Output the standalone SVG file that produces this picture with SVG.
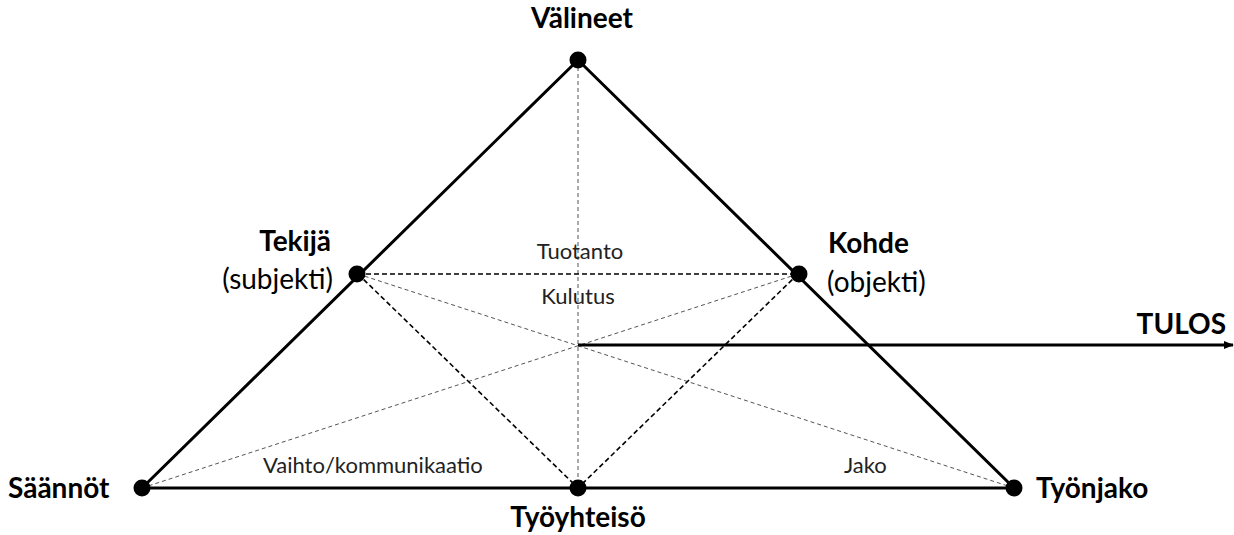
<svg xmlns="http://www.w3.org/2000/svg" width="1234" height="535" viewBox="0 0 1234 535">
  <style>
    text { font-family: Lato, "Open Sans", "Liberation Sans", sans-serif; fill: #000; }
    .big { font-size: 28px; font-weight: bold; }
    .sub { font-size: 28px; }
    .small { font-size: 22px; fill: #222; }
    .edge { stroke: #000; stroke-width: 3; fill: none; stroke-linecap: round; }
    .dash { stroke: #000; stroke-width: 1.6; stroke-dasharray: 5 3; fill: none; }
    .thin { stroke: #555; stroke-width: 1; stroke-dasharray: 4 3; fill: none; }
    .dot { fill: #000; }
  </style>
  <defs>
    <marker id="arrow" markerWidth="10" markerHeight="10" refX="9" refY="5" orient="auto" markerUnits="userSpaceOnUse">
      <path d="M0,1 L10,5 L0,9 Z" fill="#000"/>
    </marker>
  </defs>

  <g id="connectors">
    <!-- light guide lines through the centre -->
    <line class="thin" x1="578" y1="60" x2="578" y2="488"/>
    <line class="thin" x1="142" y1="488" x2="798" y2="274"/>
    <line class="thin" x1="358" y1="274" x2="1014" y2="488"/>
    <!-- inner dashed triangle -->
    <line class="dash" x1="358" y1="274" x2="798" y2="274"/>
    <line class="dash" x1="358" y1="274" x2="578" y2="488"/>
    <line class="dash" x1="798" y1="274" x2="578" y2="488"/>
    <!-- outer triangle -->
    <path class="edge" d="M142,488 L578,60 L1014,488 Z"/>
    <!-- result arrow -->
    <line x1="578" y1="345" x2="1233" y2="345" stroke="#000" stroke-width="3" marker-end="url(#arrow)"/>
  </g>

  <g id="valineet">
    <circle class="dot" cx="578" cy="60" r="8.5"/>
    <text class="big" x="582" y="28" text-anchor="middle">Välineet</text>
  </g>
  <g id="tekija">
    <circle class="dot" cx="357" cy="274" r="8.5"/>
    <text class="big" x="331" y="251" text-anchor="end">Tekijä</text>
    <text class="sub" x="333" y="289" text-anchor="end">(subjekti)</text>
  </g>
  <g id="kohde">
    <circle class="dot" cx="799" cy="274" r="8.5"/>
    <text class="big" x="828" y="253">Kohde</text>
    <text class="sub" x="827" y="292">(objekti)</text>
  </g>
  <g id="saannot">
    <circle class="dot" cx="142" cy="488" r="8.5"/>
    <text class="big" x="8" y="498">Säännöt</text>
  </g>
  <g id="tyoyhteiso">
    <circle class="dot" cx="578" cy="488" r="8.5"/>
    <text class="big" x="578" y="527" text-anchor="middle">Työyhteisö</text>
  </g>
  <g id="tyonjako">
    <circle class="dot" cx="1014" cy="488" r="8.5"/>
    <text class="big" x="1036" y="498">Työnjako</text>
  </g>
  <g id="tulos">
    <text class="big" x="1226" y="334" text-anchor="end">TULOS</text>
  </g>

  <g id="labels">
    <text class="small" x="580" y="259" text-anchor="middle">Tuotanto</text>
    <text class="small" x="578" y="304" text-anchor="middle">Kulutus</text>
    <text class="small" x="263" y="473">Vaihto/kommunikaatio</text>
    <text class="small" x="844" y="473">Jako</text>
  </g>
</svg>
